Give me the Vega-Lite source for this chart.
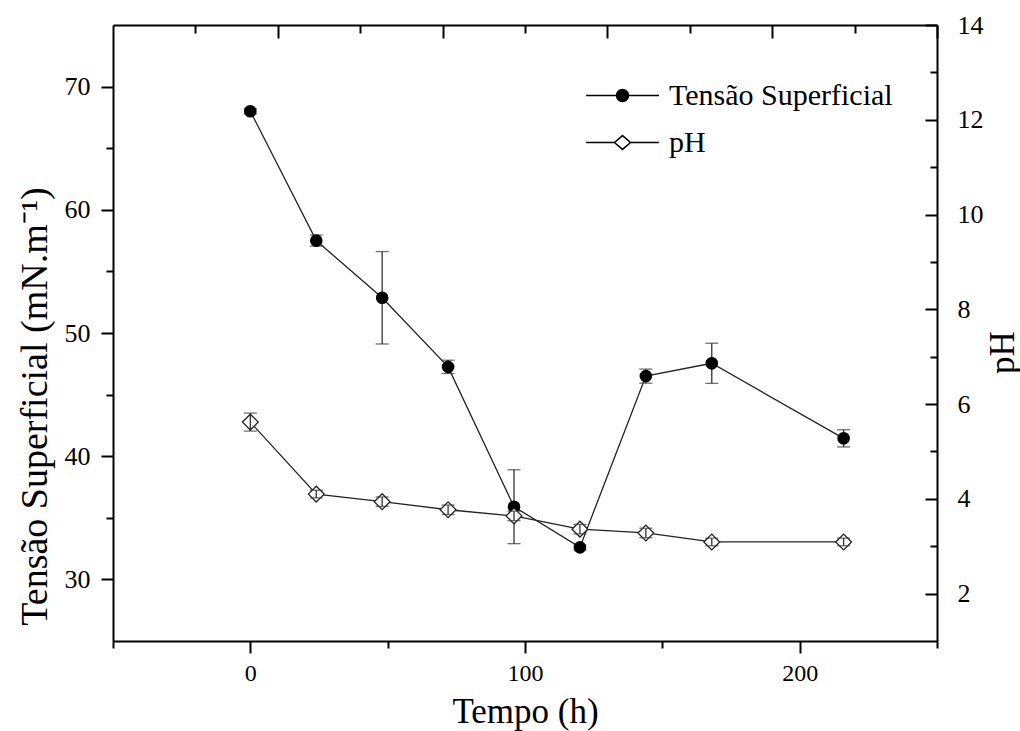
{
  "$schema": "https://vega.github.io/schema/vega-lite/v6.json",
  "width": 824,
  "height": 616,
  "autosize": {"type": "none"},
  "padding": {"left": 113, "top": 25, "right": 83, "bottom": 90},
  "background": "white",
  "config": {
    "font": "Liberation Serif",
    "view": {"stroke": null},
    "axis": {
      "grid": false,
      "domainColor": "black",
      "domainWidth": 2,
      "tickColor": "black",
      "tickWidth": 2,
      "labelColor": "black",
      "titleColor": "black",
      "labelFont": "Liberation Serif",
      "titleFont": "Liberation Serif",
      "titleFontWeight": "normal",
      "labelFontSize": 26,
      "titleFontSize": 35
    },
    "legend": {
      "orient": "none",
      "title": null,
      "padding": 0,
      "symbolSize": 5329,
      "labelFont": "Liberation Serif",
      "labelFontSize": 30,
      "labelColor": "black",
      "labelOffset": 9,
      "labelLimit": 400
    }
  },
  "datasets": {
    "tensao": [
      {"tempo": 0, "ts": 68.0, "sd": 0.2},
      {"tempo": 24, "ts": 57.5, "sd": 0.45},
      {"tempo": 48, "ts": 52.86, "sd": 3.75},
      {"tempo": 72, "ts": 47.25, "sd": 0.54},
      {"tempo": 96, "ts": 35.9, "sd": 3.0},
      {"tempo": 120, "ts": 32.6, "sd": 0.2},
      {"tempo": 144, "ts": 46.5, "sd": 0.57},
      {"tempo": 168, "ts": 47.54, "sd": 1.63},
      {"tempo": 216, "ts": 41.45, "sd": 0.7}
    ],
    "ph": [
      {"tempo": 0, "ph": 5.62, "sd": 0.19},
      {"tempo": 24, "ph": 4.1, "sd": 0.08},
      {"tempo": 48, "ph": 3.94, "sd": 0.1},
      {"tempo": 72, "ph": 3.77, "sd": 0.1},
      {"tempo": 96, "ph": 3.64, "sd": 0.1},
      {"tempo": 120, "ph": 3.36, "sd": 0.1},
      {"tempo": 144, "ph": 3.28, "sd": 0.1},
      {"tempo": 168, "ph": 3.09, "sd": 0.08},
      {"tempo": 216, "ph": 3.09, "sd": 0.08}
    ],
    "series": [
      {"serie": "Tensão Superficial"},
      {"serie": "pH"}
    ]
  },
  "layer": [
    {
      "data": {"name": "tensao"},
      "mark": {"type": "line", "color": "#222", "strokeWidth": 1.3},
      "encoding": {
        "x": {
          "field": "tempo", "type": "quantitative",
          "scale": {"domain": [-50, 250], "nice": false, "zero": false},
          "axis": {"orient": "bottom", "values": [0, 100, 200], "tickSize": 12, "labelPadding": 8, "labelFontSize": 24,
                   "title": "Tempo (h)", "titleBaseline": "alphabetic", "titleY": 81}
        },
        "y": {
          "field": "ts", "type": "quantitative",
          "scale": {"domain": [25, 75], "nice": false, "zero": false},
          "axis": {"orient": "left", "values": [30, 40, 50, 60, 70], "tickSize": 12, "labelPadding": 11,
                   "title": "Tensão Superficial (mN.m⁻¹)", "titleFontSize": 38, "titleAngle": 270, "titleBaseline": "alphabetic",
                   "titleX": -67, "titleY": 381, "titleAlign": "center"}
        }
      }
    },
    {
      "data": {"name": "ph"},
      "mark": {"type": "line", "color": "#222", "strokeWidth": 1.3},
      "encoding": {
        "x": {"field": "tempo", "type": "quantitative", "scale": {"domain": [-50, 250], "nice": false, "zero": false}, "axis": null},
        "y": {
          "field": "ph", "type": "quantitative",
          "scale": {"domain": [1, 14], "nice": false, "zero": false},
          "axis": {"orient": "right", "values": [2, 4, 6, 8, 10, 12, 14], "tickSize": -12, "labelPadding": 32,
                   "title": "pH", "titleAngle": 270, "titleBaseline": "alphabetic", "titleX": 76, "titleY": 327, "titleAlign": "center"}
        }
      }
    },
    {
      "data": {"name": "tensao"},
      "mark": {"type": "errorbar", "ticks": {"size": 13, "thickness": 1.3, "color": "#333"}, "rule": {"strokeWidth": 1.3, "color": "#333"}},
      "encoding": {
        "x": {"field": "tempo", "type": "quantitative", "scale": {"domain": [-50, 250], "nice": false, "zero": false}, "axis": null},
        "y": {"field": "ts", "type": "quantitative", "scale": {"domain": [25, 75], "nice": false, "zero": false}, "axis": null},
        "yError": {"field": "sd"}
      }
    },
    {
      "data": {"name": "tensao"},
      "mark": {"type": "point", "shape": "circle", "filled": true, "size": 160, "color": "black", "opacity": 1},
      "encoding": {
        "x": {"field": "tempo", "type": "quantitative", "scale": {"domain": [-50, 250], "nice": false, "zero": false}, "axis": null},
        "y": {"field": "ts", "type": "quantitative", "scale": {"domain": [25, 75], "nice": false, "zero": false}, "axis": null}
      }
    },
    {
      "data": {"name": "ph"},
      "mark": {"type": "point", "shape": "diamond", "filled": true, "size": 250, "fill": "white", "stroke": "#222", "strokeWidth": 1.3, "opacity": 1},
      "encoding": {
        "x": {"field": "tempo", "type": "quantitative", "scale": {"domain": [-50, 250], "nice": false, "zero": false}, "axis": null},
        "y": {"field": "ph", "type": "quantitative", "scale": {"domain": [1, 14], "nice": false, "zero": false}, "axis": null}
      }
    },
    {
      "data": {"name": "ph"},
      "mark": {"type": "errorbar", "ticks": {"size": 13, "thickness": 1.3, "color": "#333"}, "rule": {"strokeWidth": 1.3, "color": "#333"}},
      "encoding": {
        "x": {"field": "tempo", "type": "quantitative", "scale": {"domain": [-50, 250], "nice": false, "zero": false}, "axis": null},
        "y": {"field": "ph", "type": "quantitative", "scale": {"domain": [1, 14], "nice": false, "zero": false}, "axis": null},
        "yError": {"field": "sd"}
      }
    },
    {
      "data": {"name": "tensao"},
      "transform": [{"filter": "false"}],
      "mark": {"type": "point"},
      "encoding": {
        "x": {
          "field": "tempo", "type": "quantitative",
          "scale": {"domain": [-50, 250], "nice": false, "zero": false},
          "axis": {"orient": "bottom", "values": [-50, 50, 150, 250], "tickSize": 7, "labels": false, "domain": false, "title": null}
        },
        "y": {
          "field": "ts", "type": "quantitative",
          "scale": {"domain": [25, 75], "nice": false, "zero": false},
          "axis": {"orient": "left", "values": [35, 45, 55, 65], "tickSize": 7, "labels": false, "domain": false, "title": null}
        }
      }
    },
    {
      "data": {"name": "ph"},
      "transform": [{"filter": "false"}],
      "mark": {"type": "point"},
      "encoding": {
        "x": {
          "field": "tempo", "type": "quantitative",
          "scale": {"domain": [-50, 250], "nice": false, "zero": false},
          "axis": {"orient": "top", "values": [10, 70, 130, 190, 250], "tickSize": -13, "labels": false, "domain": true, "title": null}
        },
        "y": {
          "field": "ph", "type": "quantitative",
          "scale": {"domain": [1, 14], "nice": false, "zero": false},
          "axis": {"orient": "right", "values": [3, 5, 7, 9, 11, 13], "tickSize": -7, "labels": false, "domain": false, "title": null}
        }
      }
    },
    {
      "data": {"name": "ph"},
      "transform": [{"filter": "false"}],
      "mark": {"type": "point"},
      "encoding": {
        "x": {
          "field": "tempo", "type": "quantitative",
          "scale": {"domain": [-50, 250], "nice": false, "zero": false},
          "axis": {"orient": "top", "values": [-20, 40, 100, 160, 220], "tickSize": -8, "labels": false, "domain": false, "title": null}
        }
      }
    },
    {
      "data": {"name": "series"},
      "transform": [{"filter": "false"}],
      "mark": {"type": "point", "filled": true, "stroke": "black", "strokeWidth": 1.3, "opacity": 1},
      "encoding": {
        "shape": {
          "field": "serie", "type": "nominal",
          "scale": {
            "domain": ["Tensão Superficial"],
            "range": ["M-1,0H-0.164M0.164,0H1M-0.164,0A0.164,0.164,0,1,1,0.164,0A0.164,0.164,0,1,1,-0.164,0Z"]
          },
          "legend": {"legendX": 472, "legendY": 33}
        },
        "fill": {
          "field": "serie", "type": "nominal",
          "scale": {"domain": ["Tensão Superficial"], "range": ["black"]},
          "legend": {"legendX": 472, "legendY": 33}
        }
      }
    },
    {
      "data": {"name": "series"},
      "transform": [{"filter": "false"}],
      "mark": {"type": "point", "filled": true, "stroke": "black", "strokeWidth": 1.3, "opacity": 1},
      "encoding": {
        "shape": {
          "field": "serie", "type": "nominal",
          "scale": {
            "domain": ["pH"],
            "range": ["M-1,0H-0.22M0.22,0H1M-0.22,0L0,-0.19L0.22,0L0,0.19Z"]
          },
          "legend": {"legendX": 472, "legendY": 80}
        },
        "fill": {
          "field": "serie", "type": "nominal",
          "scale": {"domain": ["pH"], "range": ["white"]},
          "legend": {"legendX": 472, "legendY": 80}
        }
      }
    }
  ],
  "resolve": {
    "scale": {"x": "independent", "y": "independent", "shape": "independent", "fill": "independent"},
    "axis": {"x": "independent", "y": "independent"},
    "legend": {"shape": "independent", "fill": "independent"}
  }
}
